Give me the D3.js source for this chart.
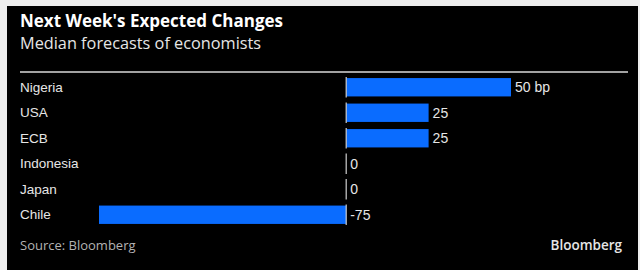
<!DOCTYPE html>
<html>
<head>
<meta charset="utf-8">
<script src="https://cdn.jsdelivr.net/npm/d3@7"></script>
<style>
  html, body { margin: 0; padding: 0; background: #eeeeee; }
  svg { display: block; }
</style>
</head>
<body>
<div id="chart"></div>
<script>
const countries = ['Nigeria', 'USA', 'ECB', 'Indonesia', 'Japan', 'Chile'];
const changes = [50, 25, 25, 0, 0, -75];
const valueLabels = ['50 bp', '25', '25', '0', '0', '-75'];

const W = 640, H = 270;
const svg = d3.select('#chart').append('svg')
    .attr('width', W)
    .attr('height', H);

// black panel
svg.append('rect')
    .attr('x', 7).attr('y', 6)
    .attr('width', W - 9).attr('height', H - 6)
    .attr('fill', '#000');

svg.append('text')
    .attr('x', 20).attr('y', 27)
    .attr('fill', '#fff')
    .attr('font-family', 'Open Sans, sans-serif')
    .attr('font-weight', 'bold')
    .attr('font-size', '17px')
    .text("Next Week's Expected Changes");

svg.append('text')
    .attr('x', 20).attr('y', 49)
    .attr('fill', '#e6e6e6')
    .attr('font-family', 'Open Sans, sans-serif')
    .attr('font-size', '16.3px')
    .text('Median forecasts of economists');

svg.append('line')
    .attr('x1', 20).attr('x2', 628)
    .attr('y1', 72).attr('y2', 72)
    .attr('stroke', '#d9d9d9')
    .attr('stroke-width', 1.5);

const x = d3.scaleLinear()
    .domain([-75, 50])
    .range([99, 511]);

const y = d3.scaleBand()
    .domain(countries)
    .range([74.5, 227.5])
    .paddingInner(0.28)
    .paddingOuter(0.14);

const data = countries.map((c, i) => ({ country: c, value: changes[i], label: valueLabels[i] }));

const rows = svg.append('g').selectAll('g')
    .data(data)
    .join('g');

rows.append('text')
    .attr('x', 20)
    .attr('y', d => y(d.country) + y.bandwidth() / 2)
    .attr('dy', '0.35em')
    .attr('fill', '#e6e6e6')
    .attr('font-family', 'Liberation Sans, Arial, sans-serif')
    .attr('font-size', '13.5px')
    .text(d => d.country);

rows.append('rect')
    .attr('x', d => x(Math.min(0, d.value)))
    .attr('y', d => y(d.country))
    .attr('width', d => Math.abs(x(d.value) - x(0)))
    .attr('height', y.bandwidth())
    .attr('fill', '#0a6cff');

// zero baseline tick per row
rows.append('line')
    .attr('x1', x(0)).attr('x2', x(0))
    .attr('y1', d => y(d.country) - 1)
    .attr('y2', d => y(d.country) + y.bandwidth() + 1)
    .attr('stroke', '#cfcfcf')
    .attr('stroke-width', 1.2);

rows.append('text')
    .attr('x', d => d.value > 0 ? x(d.value) + 4 : x(0) + 4)
    .attr('y', d => y(d.country) + y.bandwidth() / 2)
    .attr('dy', '0.35em')
    .attr('fill', '#e6e6e6')
    .attr('font-family', 'Liberation Sans, Arial, sans-serif')
    .attr('font-size', '14px')
    .text(d => d.label);

svg.append('text')
    .attr('x', 20).attr('y', 250)
    .attr('fill', '#b3b3b3')
    .attr('font-family', 'Open Sans, sans-serif')
    .attr('font-size', '13px')
    .text('Source: Bloomberg');

svg.append('text')
    .attr('x', 622).attr('y', 250)
    .attr('text-anchor', 'end')
    .attr('fill', '#e6e6e6')
    .attr('font-family', 'Open Sans, sans-serif')
    .attr('font-weight', 600)
    .attr('font-size', '13.5px')
    .text('Bloomberg');
</script>
</body>
</html>
